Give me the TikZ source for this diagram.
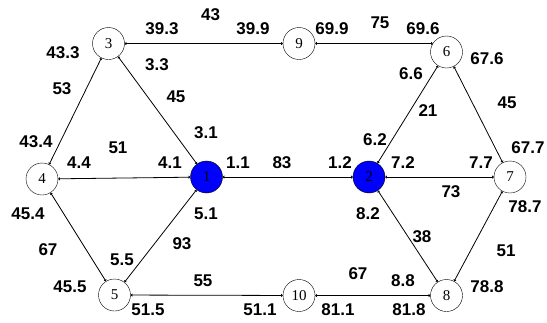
\documentclass[tikz,border=0pt]{standalone}
\usepackage{fontspec}
\setmainfont{Liberation Serif}
\newfontfamily\lblfont{Liberation Sans}
\usetikzlibrary{arrows.meta}
\definecolor{nodeblue}{RGB}{0,0,255}
\tikzset{
  vtx/.style={circle,draw=black,fill=white,minimum size=32pt,inner sep=0pt,font=\fontsize{15}{15}\selectfont},
  hub/.style={vtx,fill=nodeblue},
  edge/.style={draw=black,line width=0.8pt,{Latex[length=1.6pt,width=3.5pt]}-{Latex[length=1.6pt,width=3.5pt]}},
  lbl/.style={inner sep=0pt,font=\lblfont\bfseries\fontsize{17}{17}\selectfont}
}
\begin{document}
\begin{tikzpicture}[x=1pt,y=-1pt]
\useasboundingbox (0,0) rectangle (547,322);
\node[hub] (n1) at (206.5,177) {1};
\node[hub] (n2) at (369,177) {2};
\node[vtx] (n3) at (108.5,43.5) {3};
\node[vtx] (n4) at (42,179) {4};
\node[vtx] (n5) at (114.5,295) {5};
\node[vtx] (n6) at (446.5,52) {6};
\node[vtx] (n7) at (510,177) {7};
\node[vtx] (n8) at (446.5,295.5) {8};
\node[vtx] (n9) at (299,43.5) {9};
\node[vtx] (n10) at (299,295.5) {10};
\draw[edge] (n3) -- (n9);
\draw[edge] (n9) -- (n6.148);
\draw[edge] (n3) -- (n4);
\draw[edge] (n3) -- (n1);
\draw[edge] (n4) -- (n1);
\draw[edge] (n1) -- (n2);
\draw[edge] (n2) -- (n6);
\draw[edge] (n2) -- (n7);
\draw[edge] (n6) -- (n7);
\draw[edge] (n4) -- (n5);
\draw[edge] (n5) -- (n1);
\draw[edge] (n5) -- (n10);
\draw[edge] (n10) -- (n8);
\draw[edge] (n2) -- (n8);
\draw[edge] (n7) -- (n8);
% labels
\node[lbl] (a1) at (210.7,15) {43};
\node[lbl] (a2) at (162,29) {39.3};
\node[lbl] (a3) at (253,29) {39.9};
\node[lbl] (a4) at (63,53) {43.3};
\node[lbl] (a5) at (157,65) {3.3};
\node[lbl] (a6) at (62,89) {53};
\node[lbl] (a7) at (176,97) {45};
\node[lbl] (a8) at (206,133) {3.1};
\node[lbl] (a9) at (36,142) {43.4};
\node[lbl] (a10) at (118,148) {51};
\node[lbl] (a11) at (79,163) {4.4};
\node[lbl] (a12) at (170,163) {4.1};
\node[lbl] (a13) at (238,163) {1.1};
\node[lbl] (a14) at (282,163) {83};
\node[lbl] (b1) at (332,29) {69.9};
\node[lbl] (b2) at (380,23) {75};
\node[lbl] (b3) at (423,29) {69.6};
\node[lbl] (b4) at (487,59) {67.6};
\node[lbl] (b5) at (411,74) {6.6};
\node[lbl] (b6) at (507,103) {45};
\node[lbl] (b7) at (428,111) {21};
\node[lbl] (b8) at (375,140) {6.2};
\node[lbl] (b9) at (528,148) {67.7};
\node[lbl] (b10) at (340,163) {1.2};
\node[lbl] (b11) at (403,163) {7.2};
\node[lbl] (b12) at (481,163) {7.7};
\node[lbl] (c1) at (28,214) {45.4};
\node[lbl] (c2) at (206,214) {5.1};
\node[lbl] (c3) at (182,244) {93};
\node[lbl] (c4) at (48,250) {67};
\node[lbl] (c5) at (122,260) {5.5};
\node[lbl] (c6) at (203,281) {55};
\node[lbl] (c7) at (70,287) {45.5};
\node[lbl] (c8) at (148,310) {51.5};
\node[lbl] (c9) at (260,310) {51.1};
\node[lbl] (d1) at (451,192) {73};
\node[lbl] (d2) at (525,207) {78.7};
\node[lbl] (d3) at (368,214) {8.2};
\node[lbl] (d4) at (422,237) {38};
\node[lbl] (d5) at (506,251) {51};
\node[lbl] (d6) at (358,274) {67};
\node[lbl] (d7) at (403,281) {8.8};
\node[lbl] (d8) at (487,287) {78.8};
\node[lbl] (d9) at (338,310) {81.1};
\node[lbl] (d10) at (409,310) {81.8};
\end{tikzpicture}
\end{document}
